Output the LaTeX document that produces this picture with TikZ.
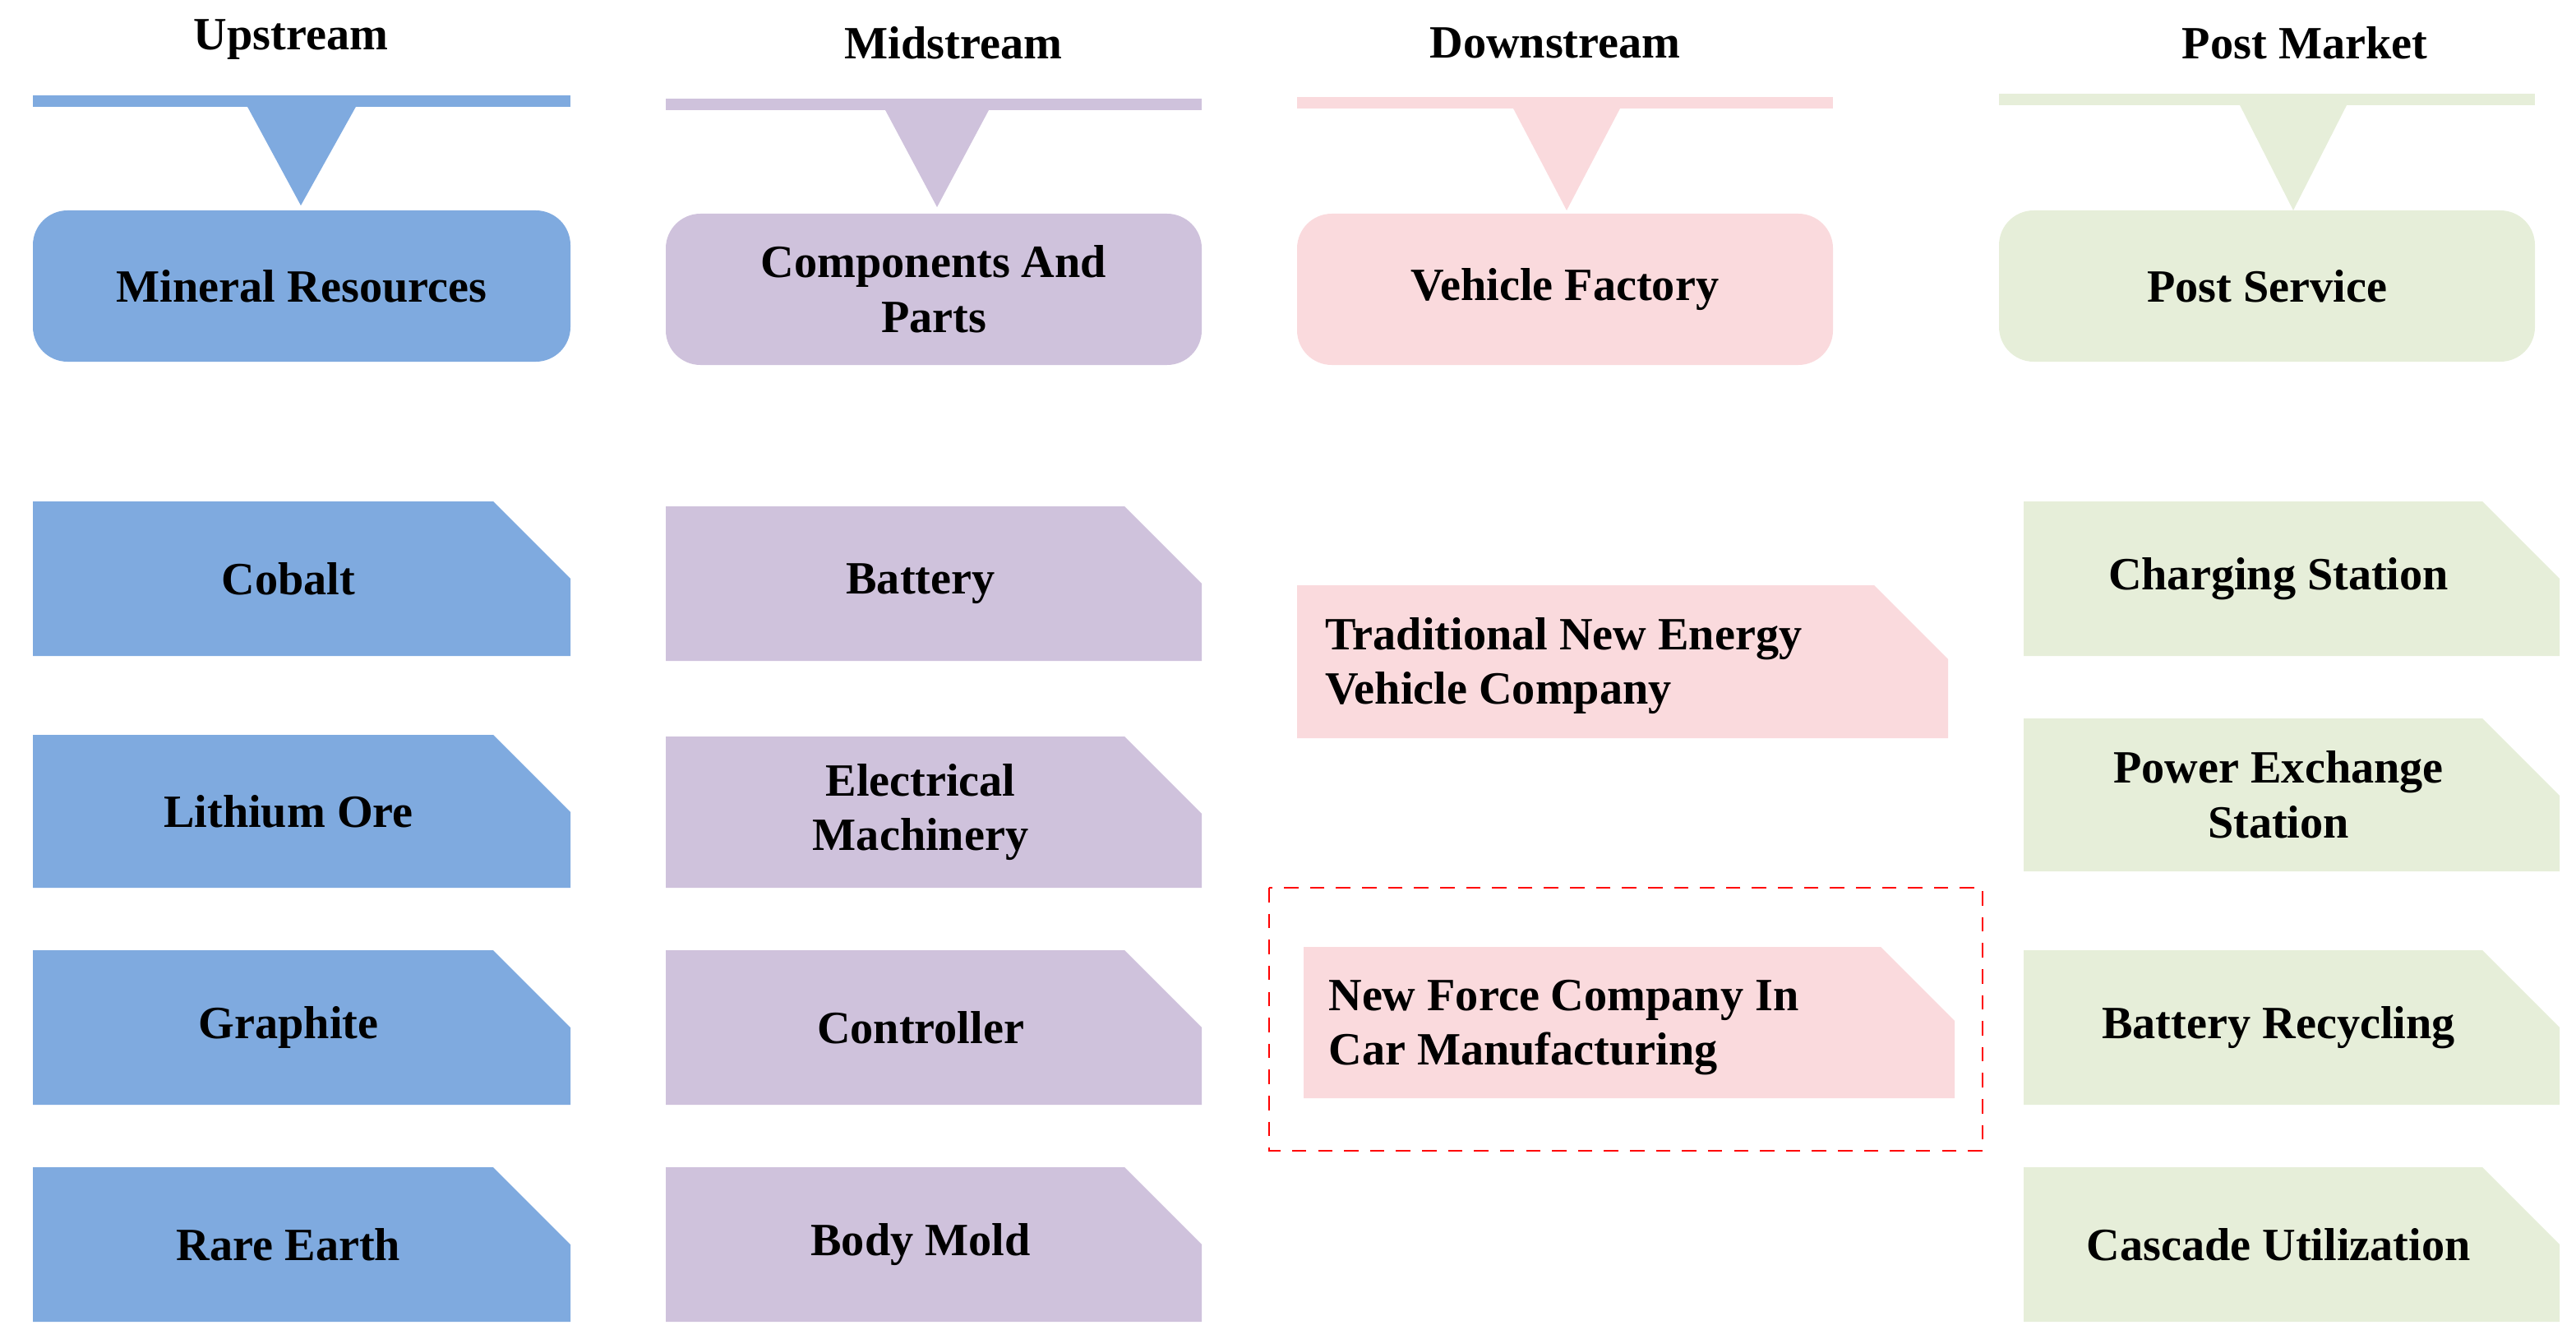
\documentclass[tikz,border=0pt]{standalone}
\usepackage{fontspec}
\setmainfont{Liberation Serif}
\definecolor{cb}{HTML}{7FAADF}
\definecolor{cp}{HTML}{CFC2DC}
\definecolor{ck}{HTML}{FADADD}
\definecolor{cg}{HTML}{E6EED9}
\newcommand\cutbox[7]{% name, x1,y1,x2,y2,color,text
  \fill[#6] (#2,-#3) -- ({#4-47},-#3) -- (#4,{-#3-47}) -- (#4,-#5) -- (#2,-#5) -- cycle;
  \node[lbl] (#1) at ({(#2+#4)/2-8},{-(#3+#5)/2}) {#7};}
\newcommand\headbox[8]{% name,x1,y1,x2,y2,color,tipx,text ; bar
  \fill[#6,rounded corners=12] (#2,-#3) rectangle (#4,-#5);
  \node[lbl] (#1) at ({(#2+#4)/2},{-(#3+#5)/2}) {#8};}
\begin{document}
\begin{tikzpicture}[x=0.02cm,y=0.02cm,
  lbl/.style={font=\bfseries\fontsize{16}{19}\selectfont,align=center},
  hd/.style={font=\bfseries\fontsize{16}{19}\selectfont}]
\useasboundingbox (0,0) rectangle (1567,-814);
% headers
\node[hd] (h1) at (177,-24) {Upstream};
\node[hd] (h2) at (580,-26) {Midstream};
\node[hd] (h3) at (946,-26) {Downstream};
\node[hd] (h4) at (1402,-26) {Post Market};
\fill[cb] (20,-58) rectangle (347,-65); \fill[cb] (150,-64) -- (217,-64) -- (183,-125) -- cycle;
\fill[cp] (405,-60) rectangle (731,-67); \fill[cp] (538,-66) -- (602,-66) -- (570,-126) -- cycle;
\fill[ck] (789,-59) rectangle (1115,-66); \fill[ck] (920,-65) -- (986,-65) -- (953,-128) -- cycle;
\fill[cg] (1216,-57) rectangle (1542,-64); \fill[cg] (1362,-63) -- (1428,-63) -- (1395,-128) -- cycle;
% top boxes
\headbox{mr}{20}{128}{347}{220}{cb}{}{Mineral Resources}
\headbox{cap}{405}{130}{731}{222}{cp}{}{Components And\\Parts}
\headbox{vf}{789}{130}{1115}{222}{ck}{}{Vehicle Factory}
\headbox{ps}{1216}{128}{1542}{220}{cg}{}{Post Service}
% upstream
\cutbox{co}{20}{305}{347}{399}{cb}{Cobalt}
\cutbox{li}{20}{447}{347}{540}{cb}{Lithium Ore}
\cutbox{gr}{20}{578}{347}{672}{cb}{Graphite}
\cutbox{re}{20}{710}{347}{804}{cb}{Rare Earth}
% midstream
\cutbox{ba}{405}{308}{731}{402}{cp}{Battery}
\cutbox{em}{405}{448}{731}{540}{cp}{Electrical\\Machinery}
\cutbox{ct}{405}{578}{731}{672}{cp}{Controller}
\cutbox{bm}{405}{710}{731}{804}{cp}{Body Mold}
% downstream
\fill[ck] (789,-356) -- (1140,-356) -- (1185,-401) -- (1185,-449) -- (789,-449) -- cycle;
\node[lbl,align=left,anchor=west] (tn) at (800,-405) {Traditional New Energy\\Vehicle Company};
\fill[ck] (793,-576) -- (1144,-576) -- (1189,-621) -- (1189,-668) -- (793,-668) -- cycle;
\node[lbl,align=left,anchor=west] (nf) at (802,-625) {New Force Company In\\Car Manufacturing};
\draw[red,thick,dashed,dash pattern=on 5pt off 4pt] (772,-540) rectangle (1206,-700);
% post market
\cutbox{cs}{1231}{305}{1557}{399}{cg}{Charging Station}
\cutbox{pe}{1231}{437}{1557}{530}{cg}{Power Exchange\\Station}
\cutbox{br}{1231}{578}{1557}{672}{cg}{Battery Recycling}
\cutbox{cu}{1231}{710}{1557}{804}{cg}{Cascade Utilization}
\end{tikzpicture}
\end{document}
